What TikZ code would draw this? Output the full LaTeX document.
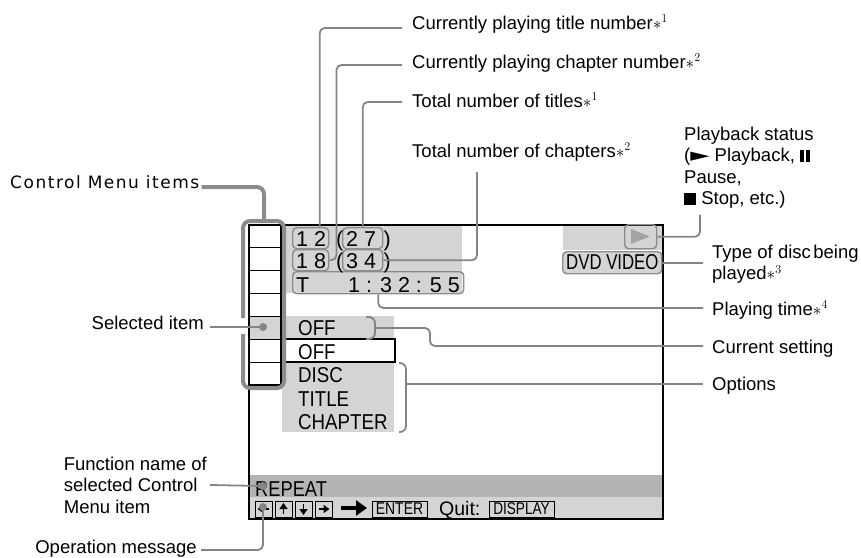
\documentclass[tikz,border=0pt]{standalone}
\usepackage{fontspec}
\setmainfont{Liberation Sans}
\newfontfamily\cmfont{DejaVu Sans}[LetterSpace=9]
\newfontfamily\symfont{DejaVu Sans}
\usetikzlibrary{arrows.meta,calc}
\definecolor{lg}{HTML}{D4D4D4}
\definecolor{dg}{HTML}{B4B4B4}
\definecolor{ln}{HTML}{858585}
\definecolor{bx}{HTML}{8C8C8C}
\newcommand{\annfont}{\fontsize{18.5}{21.5}\selectfont}
\newcommand{\scrfont}{\fontsize{21.5}{23.5}\selectfont}
\newcommand{\supnote}[1]{{\fontsize{18}{18}\selectfont$\ast^{#1}$}}
\newcommand{\pausesym}{\rule{3.5pt}{12pt}\hspace{2.5pt}\rule{3.5pt}{12pt}}
\begin{document}
\begin{tikzpicture}[x=1pt,y=-1pt,
  ann/.style={draw=ln, line width=1.8pt, rounded corners=5pt},
  thickbr/.style={draw=bx, line width=4pt, rounded corners=7pt},
  lbl/.style={font=\annfont, inner sep=0pt, text=black},
  scr/.style={font=\scrfont, inner sep=0pt, anchor=base west},
  rbox/.style={draw=bx, line width=1.4pt, rounded corners=4pt, inner sep=0pt, anchor=north west},
  dotn/.style={circle, fill=ln, minimum size=8pt, inner sep=0pt},
  btn/.style={draw=black, line width=0.8pt, fill=lg, minimum width=17pt, minimum height=16pt, inner sep=0pt},
  key/.style={draw=black, line width=0.8pt, minimum height=16pt, inner sep=0pt, font=\fontsize{17}{17}\selectfont},
  sym/.style={line width=1.8pt, -{Triangle[length=6pt,width=8pt]}}]
\useasboundingbox (0,0) rectangle (861,557);

% ---- screen backgrounds
\fill[lg] (281,225) rectangle (462,293);
\fill[lg] (563,225) rectangle (663,250);
\fill[lg] (249,316) rectangle (394,339);
\fill[lg] (282,362) rectangle (394,432);
\fill[dg] (249,475) rectangle (663,497);
\fill[lg] (249,497) rectangle (663,519);
\draw[black, line width=1.2pt, fill=white] (281,339) rectangle (395,362);

% ---- control menu column
\foreach \i in {0,...,7}
  \draw[black, line width=1.2pt] (249,225+\i*22.85) -- (281,225+\i*22.85);
\draw[black, line width=1.2pt] (281,225) -- (281,385);

% ---- screen border
\draw[black, line width=1.5pt] (249,225) rectangle (663,519);

% ---- number boxes
\node[rbox, minimum width=36pt, minimum height=21pt] (b12) at (292,227) {};
\node[rbox, minimum width=40pt, minimum height=21pt] (b27) at (342,227) {};
\node[rbox, minimum width=36pt, minimum height=21pt] (b18) at (292,249) {};
\node[rbox, minimum width=40pt, minimum height=21pt] (b34) at (342,249) {};
\node[rbox, minimum width=171pt, minimum height=22pt] (tbox) at (292,271) {};
\node[scr] (s12) at (296,246) {1 2};
\node[scr] (s27) at (346,246) {2 7};
\node[scr] (s18) at (296,268) {1 8};
\node[scr] (s34) at (346,268) {3 4};
\node[scr] (pa1) at (336,246) {(};
\node[scr] (pb1) at (383.5,246) {)};
\node[scr] (pa2) at (336,268) {(};
\node[scr] (pb2) at (383.5,268) {)};
\node[scr] (tt) at (296,292) {T};
\node[scr] (time) at (348,292) {1 : 3 2 : 5 5};

% ---- status boxes
\node[rbox, minimum width=32pt, minimum height=24pt] (play) at (624,224) {};
\fill[bx!80] (631,229) -- (631,244) -- (650,236.5) -- cycle;
\node[rbox, fill=lg, minimum width=99pt, minimum height=22pt] (dvd) at (562,251) {};
\node[scr] (dvdt) at (566,269) {\scalebox{0.78}[1]{DVD VIDEO}};

% ---- settings texts
\node[scr] (off1) at (298,335) {\scalebox{0.87}[1]{OFF}};
\node[scr] (off2) at (298,359) {\scalebox{0.87}[1]{OFF}};
\node[scr] (disc) at (298,382) {\scalebox{0.87}[1]{DISC}};
\node[scr] (title) at (298,406) {\scalebox{0.87}[1]{TITLE}};
\node[scr] (chap) at (298,429) {\scalebox{0.87}[1]{CHAPTER}};
\draw[ann, rounded corners=6pt] (366,317) -- (375,317) -- (375,339) -- (366,339);
\coordinate (offb) at (375,328);
\draw[ann, rounded corners=6pt] (399,363) -- (406,363) -- (406,432) -- (399,432);
\coordinate (optb) at (406,384);

% ---- bottom bars
\node[scr] (rep) at (255,496) {\scalebox{0.85}[1]{REPEAT}};
\node[btn] (bt1) at (263.5,509) {};
\node[btn] (bt2) at (283.5,509) {};
\node[btn] (bt3) at (303.5,509) {};
\node[btn] (bt4) at (323.5,509) {};
\draw[sym] ([xshift=5pt]bt1.center) -- ([xshift=-6pt]bt1.center);
\draw[sym] ([yshift=-5pt]bt2.center) -- ([yshift=6pt]bt2.center);
\draw[sym] ([yshift=5pt]bt3.center) -- ([yshift=-6pt]bt3.center);
\draw[sym] ([xshift=-5pt]bt4.center) -- ([xshift=6pt]bt4.center);
\coordinate (bigA) at (341,508);
\coordinate (bigB) at (367,508);
\draw[line width=4.5pt, -{Triangle[length=11pt,width=15pt]}] (bigA) -- (bigB);
\node[key, minimum width=55pt] (enter) at (399.5,509) {\scalebox{0.82}[1]{ENTER}};
\node[font=\fontsize{19.5}{20}\selectfont, inner sep=0pt, anchor=base west] (quit) at (439,515) {Quit:};
\node[key, minimum width=65pt] (disp) at (521.5,509) {\scalebox{0.8}[1]{DISPLAY}};

% ---- control menu bracket
\coordinate (brtop) at (264,221);
\draw[thickbr] (243,318) -- (243,221) -- (284,221) -- (284,388) -- (243,388) -- (243,334);
\node[font={\cmfont\fontsize{17}{20}\selectfont}, inner sep=0pt, anchor=base west] (cm) at (10,188) {Control Menu items};
\draw[thickbr] ([xshift=2pt,yshift=1pt]cm.base east) -| (brtop);

% ---- top labels
\node[lbl, anchor=base west] (t1) at (412,29) {Currently playing title number\supnote{1}};
\node[lbl, anchor=base west] (t2) at (412,68) {Currently playing chapter number\supnote{2}};
\node[lbl, anchor=base west] (t3) at (412,107) {Total number of titles\supnote{1}};
\node[lbl, anchor=base west] (t4) at (412,157) {Total number of chapters\supnote{2}};
\draw[ann] ([xshift=-10pt,yshift=1pt]t1.base west) -| ([xshift=9pt]b12.north);
\draw[ann] ([xshift=-10pt,yshift=3pt]t2.base west) -| ([xshift=7pt]b18.east) -- (b18.east);
\draw[ann] ([xshift=-10pt,yshift=5pt]t3.base west) -| (b27.north);
\draw[ann] ([xshift=65pt,yshift=-15pt]t4.base west) |- (b34.east);

% ---- right labels
\node[lbl, anchor=north west, align=left] (ps) at (684,126.5) {Playback status\\({\symfont\scalebox{1.35}[1]{►}} Playback, \pausesym\\Pause,\\\rule{12pt}{12pt} Stop, etc.)};
\draw[ann] ([xshift=16pt,yshift=-6pt]ps.south west) |- (play.east);
\node[lbl, anchor=north west, align=left] (dsc) at (712,244.5) {Type of disc\hspace{2.5pt}being\\played\supnote{3}};
\coordinate (dscL) at ([xshift=-9pt]dsc.north west);
\draw[ann] (dvd.east) -- (dvd.east -| dscL);
\node[lbl, anchor=base west] (ptime) at (712,315) {Playing time\supnote{4}};
\draw[ann] (tbox.south) |- ([xshift=-9pt,yshift=7pt]ptime.base west);
\node[lbl, anchor=base west] (curset) at (712,353) {Current setting};
\draw[ann] (offb) -- ++(55,0) |- ([xshift=-9pt,yshift=7pt]curset.base west);
\node[lbl, anchor=base west] (opts) at (712,390) {Options};
\draw[ann] (optb) -- ([xshift=-9pt,yshift=6pt]opts.base west);

% ---- left labels
\node[lbl, anchor=base east] (sel) at (204,329) {Selected item};
\node[dotn] (seldot) at (263,327) {};
\draw[ann] ([xshift=6pt,yshift=2pt]sel.base east) -- (seldot.center);
\node[lbl, anchor=east, align=left] (fn) at (207,485) {Function name of\\selected Control\\Menu item};
\node[dotn] (fndot) at (263,486) {};
\draw[ann] ([xshift=3pt]fn.east) -- (fndot.center);
\node[lbl, anchor=base east] (opm) at (197,553) {Operation message};
\node[dotn] (opdot) at (263,507) {};
\draw[ann] ([xshift=4pt,yshift=3pt]opm.base east) -| (opdot.center);
\end{tikzpicture}
\end{document}
